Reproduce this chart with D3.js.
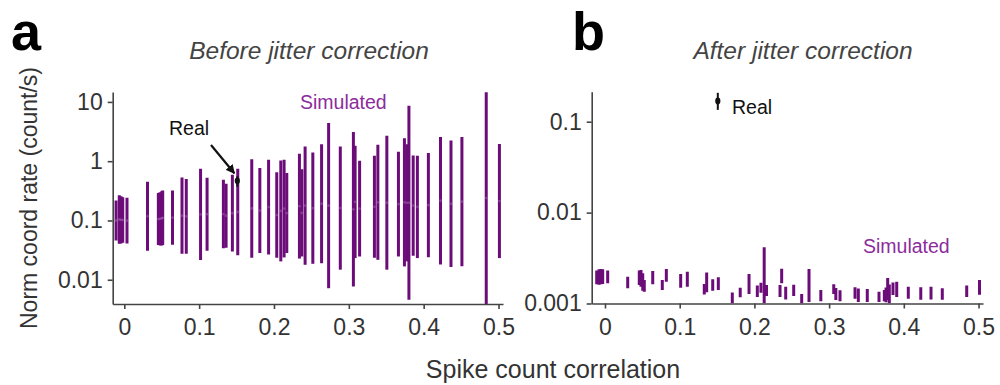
<!DOCTYPE html>
<html>
<head>
<meta charset="utf-8">
<script src="https://cdn.jsdelivr.net/npm/d3@7/dist/d3.min.js"></script>
<style>
  html, body { margin: 0; padding: 0; background: #fff; }
  svg { display: block; font-family: "Liberation Sans", Arial, Helvetica, sans-serif; }
</style>
</head>
<body>
<svg id="chart" width="1000" height="385"></svg>
<script>
// ---- Panel a: before jitter correction (simulated ranges, count/s) ----
const beforeCorr = [-0.011, -0.0067, -0.0044, -0.0021, 0.0036, 0.031, 0.0455, 0.0477, 0.050, 0.0513,
  0.0644, 0.0771, 0.0828, 0.1019, 0.1106, 0.1324, 0.136, 0.1444, 0.1516, 0.1703,
  0.1811, 0.1928, 0.2037, 0.2091, 0.2135, 0.2171, 0.234, 0.2372, 0.2416, 0.2519,
  0.2636, 0.273, 0.2886, 0.3061, 0.3084, 0.3144, 0.3342, 0.3388, 0.3508, 0.3663,
  0.3743, 0.3775, 0.3803, 0.386, 0.3916, 0.4063, 0.4225, 0.4365, 0.4511, 0.4836, 0.5012];
const beforeHigh = [0.217, 0.266, 0.256, 0.246, 0.241, 0.45, 0.29, 0.30, 0.31, 0.32,
  0.32, 0.53, 0.50, 0.745, 0.525, 0.485, 0.416, 0.59, 0.745, 1.08,
  0.767, 1.06, 0.65, 1.03, 1.06, 0.63, 1.33, 0.73, 1.77, 1.40,
  1.93, 4.4, 1.77, 3.1, 1.82, 1.02, 1.23, 1.89, 2.68, 1.44,
  2.45, 1.93, 8.6, 1.25, 1.23, 1.37, 2.56, 2.23, 2.55, 14.6, 1.95];
const beforeLow = [0.046, 0.0405, 0.041, 0.042, 0.041, 0.031, 0.0385, 0.038, 0.038, 0.0385,
  0.039, 0.0274, 0.0274, 0.0215, 0.031, 0.034, 0.0347, 0.030, 0.0259, 0.0235,
  0.0282, 0.0267, 0.0235, 0.0204, 0.0238, 0.0282, 0.0228, 0.0247, 0.0179, 0.0186,
  0.019, 0.0072, 0.0148, 0.0077, 0.0232, 0.0247, 0.0235, 0.0217, 0.0148, 0.0247,
  0.0168, 0.0204, 0.0046, 0.0254, 0.0232, 0.024, 0.0181, 0.0164, 0.0169, 0.0039, 0.0232];
// observed data point (mean with range)
const beforeReal = { corr: 0.151, value: 0.467, low: 0.37, high: 0.556 };

// ---- Panel b: after jitter correction ----
const afterCorr = [-0.0111, -0.008, -0.0054, -0.0031, 0.0036, 0.0304, 0.0459, 0.0482, 0.0505, 0.0526,
  0.0639, 0.0767, 0.0821, 0.1013, 0.1102, 0.1329, 0.1361, 0.1442, 0.1517, 0.1704,
  0.181, 0.1928, 0.2039, 0.2088, 0.2131, 0.2162, 0.2343, 0.2365, 0.2419, 0.2526,
  0.2633, 0.2731, 0.2889, 0.3062, 0.309, 0.3146, 0.3347, 0.3391, 0.3511, 0.3668,
  0.3739, 0.3762, 0.3784, 0.3806, 0.3855, 0.3905, 0.406, 0.4227, 0.4364, 0.4515, 0.4842, 0.5013];
const afterHigh = [0.0023, 0.00238, 0.0024, 0.00238, 0.0023, 0.00197, 0.0023, 0.00234, 0.00215, 0.00181,
  0.00228, 0.00181, 0.0024, 0.00211, 0.00224, 0.00164, 0.0022, 0.00185, 0.00194, 0.00132,
  0.00149, 0.00211, 0.00158, 0.00169, 0.00415, 0.0016, 0.0016, 0.00241, 0.00153, 0.00161,
  0.00127, 0.0024, 0.00141, 0.00163, 0.00148, 0.0014, 0.00151, 0.00146, 0.00144, 0.00135,
  0.00141, 0.0015, 0.00191, 0.00162, 0.0017, 0.00174, 0.00153, 0.00151, 0.00153, 0.00147, 0.00158, 0.00181];
const afterLow = [0.00163, 0.00161, 0.00163, 0.00164, 0.00167, 0.00147, 0.0016, 0.00153, 0.00138, 0.00135,
  0.00163, 0.00141, 0.00174, 0.00149, 0.00153, 0.00126, 0.00133, 0.00138, 0.00141, 0.001,
  0.00117, 0.00127, 0.00118, 0.00131, 0.001, 0.00121, 0.00118, 0.00167, 0.00111, 0.00121,
  0.001, 0.00104, 0.00106, 0.00127, 0.00109, 0.00106, 0.00113, 0.00104, 0.00104, 0.00104,
  0.00106, 0.00103, 0.00109, 0.001, 0.00124, 0.00118, 0.00113, 0.0011, 0.00111, 0.0011, 0.00118, 0.00125];
const afterReal = { corr: 0.151, value: 0.169, low: 0.135, high: 0.208 };

// ---- tick values and labels ----
const xTicks = [0, 0.1, 0.2, 0.3, 0.4, 0.5];
const xTickLabels = ["0", "0.1", "0.2", "0.3", "0.4", "0.5"];
const yTicksBefore = [10, 1, 0.1, 0.01];
const yTickLabelsBefore = ["10", "1", "0.1", "0.01"];
const yTicksAfter = [0.1, 0.01, 0.001];
const yTickLabelsAfter = ["0.1", "0.01", "0.001"];

// ---- styling ----
const barColor = "#6b0c79";
const simTextColor = "#8c2c9c";
const axisColor = "#444";
const textColor = "#333";
const tickFont = 23;

const svg = d3.select("#chart");

const defs = svg.append("defs");
defs.append("marker")
  .attr("id", "arrowhead")
  .attr("viewBox", "0 0 10 10")
  .attr("refX", 9).attr("refY", 5)
  .attr("markerWidth", 4.2).attr("markerHeight", 4.2)
  .attr("orient", "auto")
  .append("path").attr("d", "M0,0 L10,5 L0,10 Z").attr("fill", "#111");

function drawPanel(cfg) {
  const g = svg.append("g");
  const x = d3.scaleLinear().domain(cfg.xDomain).range(cfg.xRange);
  const y = d3.scaleLog().domain(cfg.yDomain).range(cfg.yRange);

  const clipId = "clip-" + cfg.id;
  defs.append("clipPath").attr("id", clipId)
    .append("rect")
    .attr("x", cfg.xRange[0]).attr("y", cfg.yRange[1])
    .attr("width", cfg.xRange[1] - cfg.xRange[0])
    .attr("height", cfg.yRange[0] - cfg.yRange[1]);

  const rows = cfg.corr.map((c, i) => ({ c, lo: cfg.low[i], hi: cfg.high[i] }));

  const marks = g.append("g").attr("clip-path", `url(#${clipId})`);
  marks.selectAll("line.sim")
    .data(rows).join("line")
    .attr("class", "sim")
    .attr("x1", d => x(d.c)).attr("x2", d => x(d.c))
    .attr("y1", d => y(d.lo)).attr("y2", d => y(d.hi))
    .attr("stroke", barColor)
    .attr("stroke-width", cfg.barWidth);

  if (cfg.centerMarks) {
    // faint centre marker on each simulated range
    marks.selectAll("circle.mid")
      .data(rows).join("circle")
      .attr("class", "mid")
      .attr("cx", d => x(d.c))
      .attr("cy", d => (y(d.lo) + y(d.hi)) / 2)
      .attr("r", 1.4)
      .attr("fill", "#c7a2cf")
      .attr("opacity", 0.3);
  }

  // observed value with its range
  const r = cfg.real;
  g.append("line")
    .attr("x1", x(r.corr)).attr("x2", x(r.corr))
    .attr("y1", y(r.low)).attr("y2", y(r.high))
    .attr("stroke", "#111").attr("stroke-width", 2);
  g.append("ellipse")
    .attr("cx", x(r.corr)).attr("cy", y(r.value))
    .attr("rx", 2.6).attr("ry", 3.4)
    .attr("fill", "#111");

  // axes
  const xAxis = d3.axisBottom(x)
    .tickValues(xTicks)
    .tickFormat((d, i) => xTickLabels[i])
    .tickSize(5).tickSizeOuter(0).tickPadding(10);
  const yAxis = d3.axisLeft(y)
    .tickValues(cfg.yTicks)
    .tickFormat((d, i) => cfg.yTickLabels[i])
    .tickSize(5).tickSizeOuter(0).tickPadding(5);

  const gx = g.append("g").attr("transform", `translate(0,${cfg.yRange[0]})`).call(xAxis);
  const gy = g.append("g").attr("transform", `translate(${cfg.xRange[0]},0)`).call(yAxis);
  [gx, gy].forEach(a => {
    a.selectAll("path.domain").attr("stroke", axisColor).attr("stroke-width", 1.6);
    a.selectAll(".tick line").attr("stroke", axisColor).attr("stroke-width", 1.6);
    a.selectAll(".tick text")
      .attr("fill", textColor)
      .style("font-size", tickFont + "px")
      .style("font-family", '"Liberation Sans", Arial, sans-serif');
  });

  // title and panel letter
  g.append("text")
    .attr("x", cfg.titleX).attr("y", 59)
    .attr("text-anchor", "middle")
    .style("font-size", "24.5px").style("font-style", "italic")
    .attr("fill", "#444")
    .text(cfg.title);
  g.append("text")
    .attr("x", cfg.letterX).attr("y", 50)
    .style("font-size", "54px").style("font-weight", "bold")
    .attr("fill", "#000")
    .text(cfg.letter);

  // annotations
  g.append("text")
    .attr("x", cfg.realLabel[0]).attr("y", cfg.realLabel[1])
    .style("font-size", "19.5px").attr("fill", "#111")
    .text("Real");
  g.append("text")
    .attr("x", cfg.simLabel[0]).attr("y", cfg.simLabel[1])
    .style("font-size", "19.5px").attr("fill", simTextColor)
    .text("Simulated");

  return { x, y, g };
}

const pa = drawPanel({
  id: "a", letter: "a", letterX: 11, title: "Before jitter correction", titleX: 309,
  xDomain: [-0.0155, 0.506], xRange: [112.7, 503],
  yDomain: [0.0039, 14.7], yRange: [304, 92],
  yTicks: yTicksBefore, yTickLabels: yTickLabelsBefore,
  corr: beforeCorr, low: beforeLow, high: beforeHigh, real: beforeReal,
  barWidth: 3, centerMarks: true,
  realLabel: [169, 135], simLabel: [300, 109]
});

// arrow from the label to the observed point
pa.g.append("line")
  .attr("x1", 211).attr("y1", 145)
  .attr("x2", pa.x(beforeReal.corr) - 3).attr("y2", pa.y(beforeReal.high) - 3)
  .attr("stroke", "#111").attr("stroke-width", 2.2)
  .attr("marker-end", "url(#arrowhead)");

drawPanel({
  id: "b", letter: "b", letterX: 572, title: "After jitter correction", titleX: 803,
  xDomain: [-0.0178, 0.506], xRange: [591.7, 983],
  yDomain: [0.001, 0.214], yRange: [303.5, 91.7],
  yTicks: yTicksAfter, yTickLabels: yTickLabelsAfter,
  corr: afterCorr, low: afterLow, high: afterHigh, real: afterReal,
  barWidth: 3, centerMarks: false,
  realLabel: [732, 114], simLabel: [863, 253]
});

// shared axis labels
svg.append("text")
  .attr("transform", "translate(37,198) rotate(-90)")
  .attr("text-anchor", "middle")
  .style("font-size", "23px").attr("fill", textColor)
  .text("Norm coord rate (count/s)");
svg.append("text")
  .attr("x", 553).attr("y", 378)
  .attr("text-anchor", "middle")
  .style("font-size", "25px").attr("fill", textColor)
  .text("Spike count correlation");
</script>
</body>
</html>
